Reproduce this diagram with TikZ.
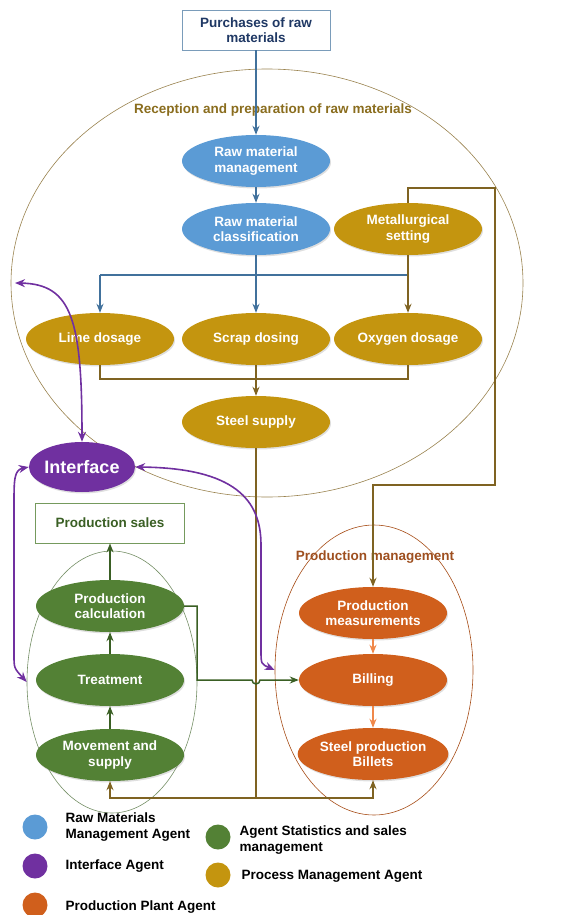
\documentclass[tikz,border=0pt]{standalone}
\usepackage{fontspec}
\setmainfont{Liberation Sans}
\usetikzlibrary{shapes.geometric,arrows.meta,shadows}
\definecolor{rmblue}{HTML}{5B9BD5}
\definecolor{pgold}{HTML}{C4950F}
\definecolor{ipurple}{HTML}{7030A0}
\definecolor{sgreen}{HTML}{538135}
\definecolor{porange}{HTML}{D05F1C}
\definecolor{lblue}{HTML}{41719C}
\definecolor{lbrown}{HTML}{7F6322}
\definecolor{lgreen}{HTML}{3A5F24}
\definecolor{lorange}{HTML}{F0884A}
\definecolor{navytext}{HTML}{1F3864}
\definecolor{olivetext}{HTML}{8A6D1E}
\definecolor{rusttext}{HTML}{9E4F1F}
\tikzset{
  agent/.style={ellipse, minimum width=148pt, minimum height=52pt, inner sep=0pt,
    text=white, align=center, font=\fontsize{13.5}{15.5}\selectfont\bfseries,
    drop shadow={opacity=0.25, shadow xshift=1pt, shadow yshift=-1.5pt}},
  rawag/.style={agent, fill=rmblue},
  procag/.style={agent, fill=pgold},
  salesag/.style={agent, fill=sgreen},
  plantag/.style={agent, fill=porange},
  container/.style={ellipse, draw=#1, line width=0.6pt, inner sep=0pt},
  tip/.style={-{Stealth[length=9pt,width=7pt]}},
  dtip/.style={{Stealth[length=10pt,width=8pt]}-{Stealth[length=10pt,width=8pt]}},
  blueline/.style={draw=lblue, line width=1.5pt},
  brownline/.style={draw=lbrown, line width=1.5pt},
  greenline/.style={draw=lgreen, line width=1.5pt},
  orangeline/.style={draw=lorange, line width=1.5pt},
  purpleline/.style={draw=ipurple, line width=1.6pt},
  legtext/.style={anchor=west, align=left, font=\fontsize{13.5}{16}\selectfont\bfseries, text=black},
  legdot/.style={circle, minimum size=25pt, inner sep=0pt},
}
\begin{document}
\begin{tikzpicture}[x=1pt,y=-1pt]
\useasboundingbox (0,0) rectangle (573,915);
% containers
\node[container=lbrown!80, minimum width=512pt, minimum height=428pt] (big) at (267,283) {};
\node[container=lgreen!70, minimum width=170pt, minimum height=262pt] (gcont) at (112,682) {};
\node[container=porange!80!black, minimum width=198pt, minimum height=290pt] (ocont) at (374,670) {};
% labels
\node[font=\fontsize{13.5}{15.5}\selectfont\bfseries, text=olivetext] (reclabel) at (273,110) {Reception and preparation of raw materials};
\node[font=\fontsize{13.5}{15.5}\selectfont\bfseries, text=rusttext] (pmlabel) at (375,557) {Production management};
% boxes
\node[draw=lblue!70, line width=0.7pt, minimum width=148pt, minimum height=40pt, align=center, text=navytext, font=\fontsize{13.5}{15.5}\selectfont\bfseries] (purch) at (256,30) {Purchases of raw\\materials};
\node[draw=sgreen!80, line width=0.7pt, minimum width=149pt, minimum height=40pt, text=lgreen, font=\fontsize{13.5}{15.5}\selectfont\bfseries] (psales) at (110,523) {Production sales};
% agents
\node[rawag] (rmm) at (256,161) {Raw material\\management};
\node[rawag] (rmc) at (256,229) {Raw material\\classification};
\node[procag] (met) at (408,229) {Metallurgical\\setting};
\node[procag] (lime) at (100,339) {Lime dosage};
\node[procag] (scrap) at (256,339) {Scrap dosing};
\node[procag] (oxy) at (408,339) {Oxygen dosage};
\node[procag] (steel) at (256,422) {Steel supply};
\node[ellipse, fill=ipurple, minimum width=104pt, minimum height=50pt, inner sep=0pt, text=white, font=\fontsize{18}{20}\selectfont\bfseries, drop shadow={opacity=0.25, shadow xshift=1pt, shadow yshift=-1.5pt}] (iface) at (82,467) {Interface};
\node[salesag] (pcalc) at (110,606) {Production\\calculation};
\node[salesag] (treat) at (110,680) {Treatment};
\node[salesag] (move) at (110,755) {Movement and\\supply};
\node[plantag] (pmeas) at (373,613) {Production\\measurements};
\node[plantag] (bill) at (373,680) {Billing};
\node[plantag] (billets) at (373,754) {Steel production\\Billets};
% coordinates
\coordinate (bsplit) at (256,275);
\coordinate (bleft) at (100,275);
\coordinate (bright) at (408,275);
\coordinate (djoin) at (256,379);
\coordinate (sjoin) at (256,798);
\coordinate (hopL) at (252,680);
\coordinate (lfree) at (15,283);
% blue connectors
\draw[blueline, tip] (purch) -- (rmm);
\draw[blueline, tip] (rmm) -- (rmc);
\draw[blueline] (rmc) -- (bsplit);
\draw[blueline] (bleft) -- (bright);
\draw[blueline, tip] (bleft) -- (lime);
\draw[blueline, tip] (bsplit) -- (scrap);
% brown connectors
\draw[brownline, tip] (met) -- (oxy);
\draw[brownline] (lime.south) |- (djoin) -| (oxy.south);
\draw[brownline, tip] (scrap) -- (steel);
\draw[brownline, tip] (met.north) |- (495,188) |- (373,485) -- (pmeas.north);
\draw[brownline] (steel) -- (sjoin);
\draw[brownline, tip] (sjoin) -| (move.south);
\draw[brownline, tip] (sjoin) -| (billets.south);
% green connectors
\draw[greenline, tip] (move) -- (treat);
\draw[greenline, tip] (treat) -- (pcalc);
\draw[greenline, tip] (pcalc) -- (psales);
\draw[greenline, tip] (pcalc.east) -- (197,606) |- (hopL) arc[start angle=180, end angle=0, radius=4] -- (bill.west);
% orange connectors
\draw[orangeline, tip] (pmeas) -- (bill);
\draw[orangeline, tip] (bill) -- (billets);
% purple connectors
\draw[purpleline, dtip] (lfree) .. controls (72,284) and (82,320) .. (iface.north);
\draw[purpleline, dtip] (iface.west) .. controls (14,470) and (14,480) .. (14,505) -- (14,655) .. controls (14,668) .. (gcont.west);
\draw[purpleline, dtip] (iface.east) .. controls (235,468) and (261,500) .. (261,545) -- (261,650) .. controls (261,664) .. (ocont.west);
% legend
\node[legdot, fill=rmblue] (d1) at (35,827) {};
\node[legdot, fill=ipurple] (d2) at (35,866) {};
\node[legdot, fill=porange] (d3) at (35,905) {};
\node[legdot, fill=sgreen] (d4) at (218,837) {};
\node[legdot, fill=pgold] (d5) at (218,875) {};
\node[legtext] (t1) at (62,827) {Raw Materials\\Management Agent};
\node[legtext] (t2) at (62,866) {Interface Agent};
\node[legtext] (t3) at (62,907) {Production Plant Agent};
\node[legtext] (t4) at (236,840) {Agent Statistics and sales\\management};
\node[legtext] (t5) at (238,876) {Process Management Agent};
\end{tikzpicture}
\end{document}
